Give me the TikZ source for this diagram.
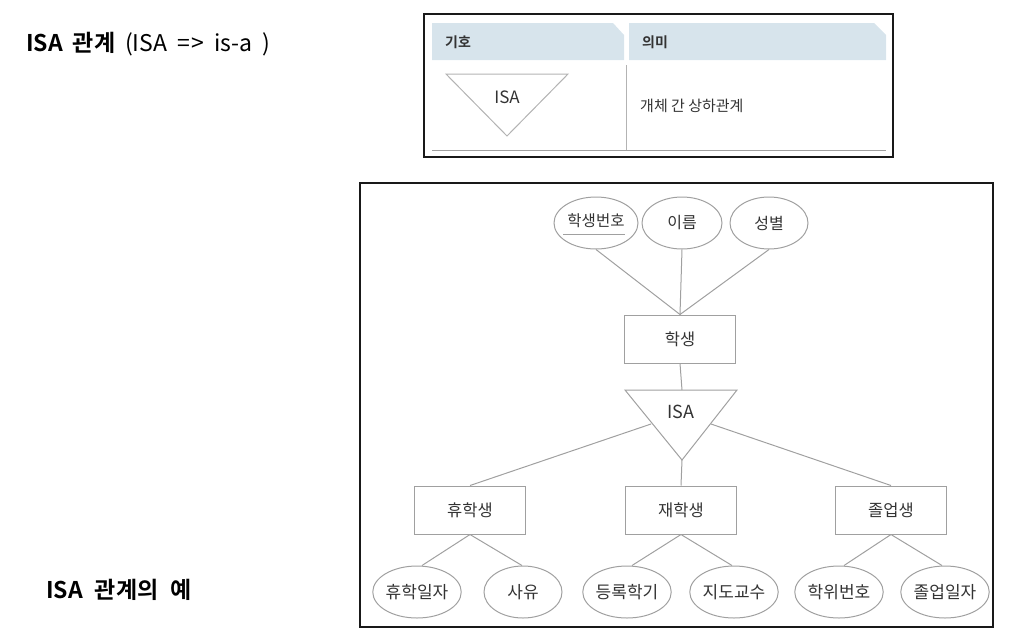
\documentclass[tikz,border=0pt]{standalone}
\usepackage{fontspec}
\setmainfont{Noto Sans CJK KR}[BoldFont={Noto Sans CJK KR Bold}]
\usetikzlibrary{shapes.geometric}
\definecolor{ln}{HTML}{A0A0A0}
\definecolor{tx}{HTML}{333333}
\definecolor{hd}{HTML}{D7E4EC}
\newcommand{\gap}{\hspace{10pt}}
\tikzset{
  ent/.style={draw=ln, line width=1pt, minimum width=111pt, minimum height=48pt, inner sep=0pt, text=tx, font=\fontsize{16.5}{16.5}\selectfont},
  attr/.style={draw=ln, line width=1pt, ellipse, minimum width=79pt, minimum height=52pt, inner sep=0pt, text=tx, font=\fontsize{17}{17}\selectfont},
  conn/.style={draw=ln, line width=1pt},
  frame/.style={draw=black!90, line width=1.3pt},
  title/.style={anchor=west, inner sep=0pt, font=\fontsize{23}{23}\selectfont},
}
\begin{document}
\begin{tikzpicture}[x=1pt,y=-1pt]
\useasboundingbox (0,0) rectangle (1023,638);
% titles
\node[title] (t1) at (26,44) {\textbf{ISA\gap 관계}\gap(ISA\gap=\hspace{1.5pt}>\gap is-a\gap)};
\node[title] (t2) at (46,590) {\textbf{ISA\hspace{12pt}관계의\hspace{12pt}예}};
% legend table
\draw[frame] (424,14) rectangle (893,157);
\fill[hd] (432,23) -- (613,23) -- (624,35) -- (624,60) -- (432,60) -- cycle;
\fill[hd] (629,23) -- (874,23) -- (886,35) -- (886,60) -- (629,60) -- cycle;
\node[anchor=west, inner sep=0pt, text=tx, font=\fontsize{14}{14}\selectfont\bfseries] (h1) at (445,42) {기호};
\node[anchor=west, inner sep=0pt, text=tx, font=\fontsize{14}{14}\selectfont\bfseries] (h2) at (642,42) {의미};
\draw[draw=ln!80, line width=1pt] (626,65) -- (626,150);
\draw[draw=ln, line width=1pt] (432,150) -- (886,150);
\draw[draw=ln!80, line width=1pt] (446,74) -- (568,74) -- (507,136) -- cycle;
\node[inner sep=0pt, text=tx, font=\fontsize{17}{17}\selectfont] (lisa) at (507,97) {ISA};
\node[anchor=west, inner sep=0pt, text=tx, font=\fontsize{15}{15}\selectfont] (lmean) at (640,106) {개체 간 상하관계};
% diagram frame
\draw[frame] (360,183) rectangle (993,627);
% top attributes
\node[attr, minimum width=84pt] (a1) at (596,223) {};
\node[inner sep=0pt, text=tx, font=\fontsize{15.5}{15.5}\selectfont] (a1t) at (596,221) {학생번호};
\draw[draw=ln, line width=1pt] (563,234) -- (625,234);
\node[attr, minimum width=80pt, font=\fontsize{16}{16}\selectfont] (a2) at (682,223) {이름};
\node[attr, minimum width=78pt, font=\fontsize{16}{16}\selectfont] (a3) at (769,223) {성별};
\node[ent] (st) at (680,339) {학생};
\draw[conn] (a1.south) -- (st.north);
\draw[conn] (a2.south) -- (st.north);
\draw[conn] (a3.south) -- (st.north);
% ISA triangle
\draw[conn] (625,390) -- (737,390) -- (682,460) -- cycle;
\node[inner sep=0pt, text=tx, font=\fontsize{18}{18}\selectfont] (isa) at (681,412) {ISA};
\coordinate (isaL) at (651,424);
\coordinate (isaR) at (711,424);
\coordinate (isaB) at (682,460);
\coordinate (isaT) at (682,390);
\draw[conn] (st.south) -- (isaT);
% sub entities
\node[ent] (e1) at (470,510) {휴학생};
\node[ent] (e2) at (681,510) {재학생};
\node[ent] (e3) at (891,510) {졸업생};
\draw[conn] (isaL) -- (e1.north);
\draw[conn] (isaB) -- (e2.north);
\draw[conn] (isaR) -- (e3.north);
% bottom attributes
\node[attr, minimum width=80pt] (b1) at (417,592) {휴학일자};
\node[attr, minimum width=78pt] (b2) at (523,592) {사유};
\node[attr, minimum width=77pt] (b3) at (627,592) {등록학기};
\node[attr, minimum width=78pt] (b4) at (734,592) {지도교수};
\node[attr, minimum width=79pt] (b5) at (839,592) {학위번호};
\node[attr, minimum width=78pt] (b6) at (945,592) {졸업일자};
\draw[conn] (e1.south) -- ([xshift=5pt]b1.north);
\draw[conn] (e1.south) -- ([xshift=-1pt]b2.north);
\draw[conn] (e2.south) -- ([xshift=5pt]b3.north);
\draw[conn] (e2.south) -- ([xshift=-2pt]b4.north);
\draw[conn] (e3.south) -- ([xshift=5pt]b5.north);
\draw[conn] (e3.south) -- ([xshift=-3pt]b6.north);
\end{tikzpicture}
\end{document}
